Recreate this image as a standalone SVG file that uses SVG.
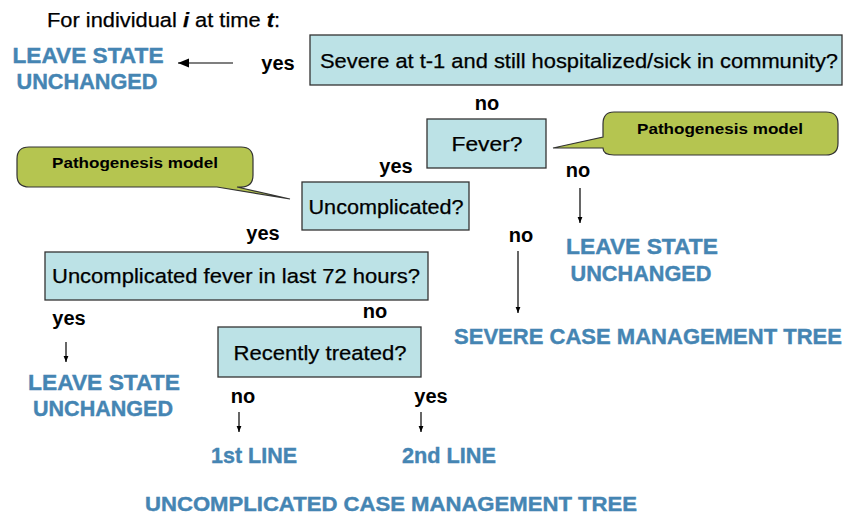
<svg xmlns="http://www.w3.org/2000/svg" width="843" height="516" viewBox="0 0 843 516">
<defs>
<style>
.box{fill:#bce2e6;stroke:#333;stroke-width:1.3}
.bt{font-family:"Liberation Sans",Arial,sans-serif;font-size:20.5px;fill:#000;stroke:#000;stroke-width:0.25}
.lbl{font-family:"Liberation Sans",Arial,sans-serif;font-size:20px;font-weight:bold;fill:#000}
.out{font-family:"Liberation Sans",Arial,sans-serif;font-size:22px;font-weight:bold;fill:#4585b3;stroke:#4585b3;stroke-width:0.4}
.call{fill:#b5c550;stroke:#333;stroke-width:1.2}
.ct{font-family:"Liberation Sans",Arial,sans-serif;font-size:15px;font-weight:bold;fill:#000}
.ln{stroke:#000;stroke-width:1.2;fill:none}
</style>
<marker id="ah" viewBox="0 0 10 10" refX="10" refY="5" markerWidth="6" markerHeight="6" orient="auto" markerUnits="userSpaceOnUse">
<path d="M0,1 L10,5 L0,9 Z" fill="#000"/>
</marker>
<marker id="ahb" viewBox="0 0 10 10" refX="10" refY="5" markerWidth="12" markerHeight="11" orient="auto" markerUnits="userSpaceOnUse">
<path d="M0,1 L10,5 L0,9 Z" fill="#000"/>
</marker>
</defs>
<rect width="843" height="516" fill="#fff"/>

<text class="bt" x="47" y="27" textLength="233" lengthAdjust="spacingAndGlyphs">For individual <tspan font-weight="bold" font-style="italic">i</tspan> at time <tspan font-weight="bold" font-style="italic">t</tspan>:</text>

<g id="connectors">
<line class="ln" x1="233" y1="63" x2="178" y2="63" marker-end="url(#ahb)" stroke-width="2.6"/>
<line class="ln" x1="580" y1="188" x2="580" y2="223" marker-end="url(#ah)"/>
<line class="ln" x1="518" y1="251" x2="518" y2="313" marker-end="url(#ah)"/>
<line class="ln" x1="66" y1="342" x2="66" y2="362" marker-end="url(#ah)"/>
<line class="ln" x1="239" y1="412" x2="239" y2="432" marker-end="url(#ah)"/>
<line class="ln" x1="421" y1="412" x2="421" y2="432" marker-end="url(#ah)"/>
<text class="lbl" x="278" y="70" text-anchor="middle">yes</text>
<text class="lbl" x="487" y="110" text-anchor="middle">no</text>
<text class="lbl" x="578" y="177" text-anchor="middle">no</text>
<text class="lbl" x="396" y="173" text-anchor="middle">yes</text>
<text class="lbl" x="521" y="242" text-anchor="middle">no</text>
<text class="lbl" x="263" y="240" text-anchor="middle">yes</text>
<text class="lbl" x="69" y="325" text-anchor="middle">yes</text>
<text class="lbl" x="375" y="318" text-anchor="middle">no</text>
<text class="lbl" x="243" y="403" text-anchor="middle">no</text>
<text class="lbl" x="431" y="403" text-anchor="middle">yes</text>
</g>

<g id="leave1">
<text class="out" x="88" y="63" text-anchor="middle" textLength="151" lengthAdjust="spacingAndGlyphs">LEAVE STATE</text>
<text class="out" x="87" y="89" text-anchor="middle" textLength="141" lengthAdjust="spacingAndGlyphs">UNCHANGED</text>
</g>

<g id="severe-q">
<rect class="box" x="310" y="35" width="532" height="50"/>
<text class="bt" x="320" y="68" textLength="518" lengthAdjust="spacingAndGlyphs">Severe at t-1 and still hospitalized/sick in community?</text>
</g>

<g id="fever">
<rect class="box" x="427" y="119" width="119" height="49"/>
<text class="bt" x="487" y="151" text-anchor="middle" textLength="71" lengthAdjust="spacingAndGlyphs">Fever?</text>
</g>

<g id="callout-right">
<path class="call" d="M614,112 H826 Q838,112 838,124 V143 Q838,155 826,155 H614 Q603,155 603,148 L553,148 L603,137 V124 Q603,112 614,112 Z"/>
<text class="ct" x="720" y="134" text-anchor="middle" textLength="166" lengthAdjust="spacingAndGlyphs">Pathogenesis model</text>
</g>

<g id="callout-left">
<path class="call" d="M29,147 H241 Q253,147 253,159 V175 Q253,187 241,187 H237 L290,199 L217,187 H29 Q17,187 17,175 V159 Q17,147 29,147 Z"/>
<text class="ct" x="135" y="168" text-anchor="middle" textLength="166" lengthAdjust="spacingAndGlyphs">Pathogenesis model</text>
</g>

<g id="leave2">
<text class="out" x="642" y="254" text-anchor="middle" textLength="152" lengthAdjust="spacingAndGlyphs">LEAVE STATE</text>
<text class="out" x="641" y="281" text-anchor="middle" textLength="141" lengthAdjust="spacingAndGlyphs">UNCHANGED</text>
</g>

<g id="uncomplicated">
<rect class="box" x="302" y="182" width="167" height="48"/>
<text class="bt" x="386" y="214" text-anchor="middle" textLength="155" lengthAdjust="spacingAndGlyphs">Uncomplicated?</text>
</g>

<g id="severe-tree">
<text class="out" x="648" y="344" text-anchor="middle" textLength="388" lengthAdjust="spacingAndGlyphs">SEVERE CASE MANAGEMENT TREE</text>
</g>

<g id="fever72">
<rect class="box" x="45" y="252" width="383" height="48"/>
<text class="bt" x="236" y="283" text-anchor="middle" textLength="368" lengthAdjust="spacingAndGlyphs">Uncomplicated fever in last 72 hours?</text>
</g>

<g id="leave3">
<text class="out" x="104" y="390" text-anchor="middle" textLength="152" lengthAdjust="spacingAndGlyphs">LEAVE STATE</text>
<text class="out" x="103" y="416" text-anchor="middle" textLength="140" lengthAdjust="spacingAndGlyphs">UNCHANGED</text>
</g>

<g id="treated">
<rect class="box" x="218" y="327" width="203" height="50"/>
<text class="bt" x="320" y="360" text-anchor="middle" textLength="173" lengthAdjust="spacingAndGlyphs">Recently treated?</text>
</g>

<g id="first-line">
<text class="out" x="254" y="463" text-anchor="middle" textLength="86" lengthAdjust="spacingAndGlyphs">1st LINE</text>
</g>
<g id="second-line">
<text class="out" x="449" y="463" text-anchor="middle" textLength="94" lengthAdjust="spacingAndGlyphs">2nd LINE</text>
</g>

<g id="uncomp-tree">
<text class="out" x="391" y="511" text-anchor="middle" font-size="20" textLength="492" lengthAdjust="spacingAndGlyphs" style="font-size:20px">UNCOMPLICATED CASE MANAGEMENT TREE</text>
</g>
</svg>
